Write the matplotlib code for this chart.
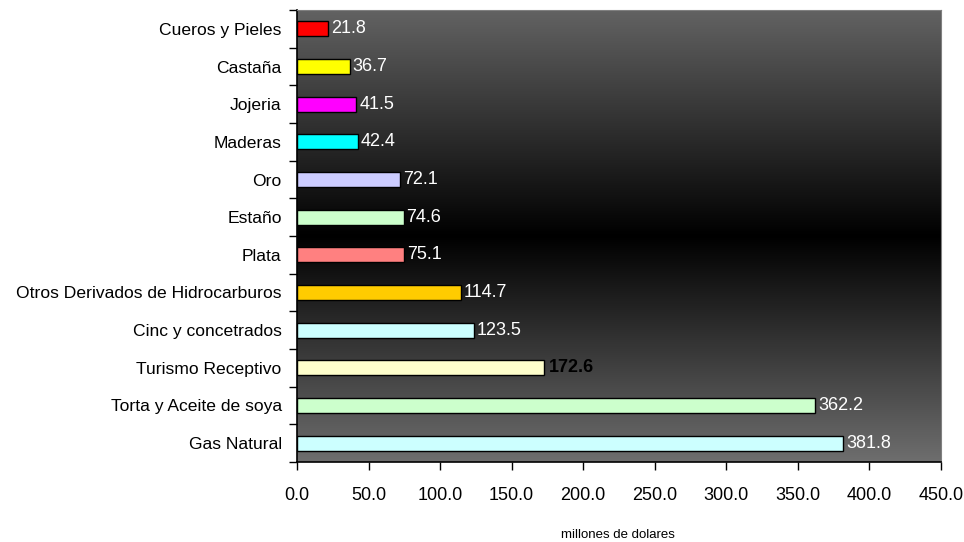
import numpy as np
import matplotlib.pyplot as plt
from matplotlib.colors import LinearSegmentedColormap

plt.rcParams['font.family'] = ['Liberation Sans', 'DejaVu Sans']

categorias = ["Cueros y Pieles", "Castaña", "Jojeria", "Maderas", "Oro", "Estaño",
              "Plata", "Otros Derivados de Hidrocarburos", "Cinc y concetrados",
              "Turismo Receptivo", "Torta y Aceite de soya", "Gas Natural"]
valores = [21.8, 36.7, 41.5, 42.4, 72.1, 74.6, 75.1, 114.7, 123.5, 172.6, 362.2, 381.8]
colores = ["#ff0000", "#ffff00", "#ff00ff", "#00ffff", "#ccccff", "#ccffcc",
           "#ff8080", "#ffcc00", "#ccffff", "#ffffcc", "#ccffcc", "#ccffff"]
xticks = np.arange(0, 451, 50)

fig = plt.figure(figsize=(9.64, 5.42), dpi=100)
ax = fig.add_axes([297/964, 1 - 462/542, 644/964, 452/542])

# fondo degradado gris-negro-gris
cmap = LinearSegmentedColormap.from_list("fondo", ["#6e6e6e", "#000000", "#626262"])
grad = np.linspace(0, 1, 256).reshape(-1, 1)
ax.imshow(grad, cmap=cmap, aspect="auto", extent=[0, 1, 1, 0],
          transform=ax.transAxes, zorder=0, interpolation="bilinear")

n = len(categorias)
pos = np.arange(n)
ax.barh(pos, valores, height=0.4, color=colores, edgecolor="black", linewidth=1, zorder=2)
for i, v in enumerate(valores):
    if categorias[i] == "Turismo Receptivo":
        ax.text(v + 3.5, i, f"{v:.1f}", va="center", ha="left", fontsize=13,
                color="black", fontweight="bold", zorder=3)
    else:
        ax.text(v + 2, i, f"{v:.1f}", va="center", ha="left", fontsize=13,
                color="white", zorder=3)

ax.set_xlim(0, 450)
ax.set_ylim(n - 0.5, -0.5)
ax.set_xticks(xticks)
ax.set_xticklabels([f"{t:.1f}" for t in xticks], fontsize=13)
ax.set_yticks(pos)
ax.set_yticklabels(categorias, fontsize=12.6)
ax.set_yticks(np.arange(-0.5, n, 1), minor=True)
ax.tick_params(axis="y", which="major", length=0, pad=11)
ax.tick_params(axis="y", which="minor", length=6, direction="out", width=1)
ax.tick_params(axis="x", length=6, direction="out", width=1, pad=12)

for s in ["top", "right"]:
    ax.spines[s].set_color("#808080")
for s in ["left", "bottom"]:
    ax.spines[s].set_color("black")
    ax.spines[s].set_linewidth(1.2)

fig.text(618/964, 1 - 535/542, "millones de dolares", fontsize=9.5, ha="center", va="center")

fig.savefig("out.png", dpi=100)
